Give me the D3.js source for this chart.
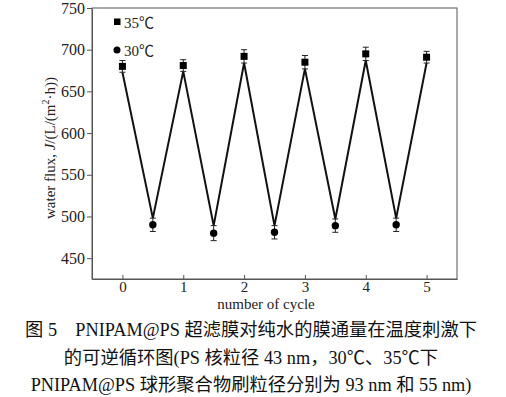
<!DOCTYPE html>
<html>
<head>
<meta charset="utf-8">
<script src="https://cdn.jsdelivr.net/npm/d3@7"></script>
<style>
  body { margin: 0; background: #fff; }
  text { font-family: "Liberation Serif", "Noto Sans CJK SC", serif; }
</style>
</head>
<body>
<svg width="506" height="397"></svg>
<script>
// 35℃ points (whole cycles) and 30℃ points (half cycles)
var hotCycle = [0, 1, 2, 3, 4, 5];
var hotFlux = [680, 681, 692, 685, 695, 691];
var hotErr = [7, 7, 8, 8, 8, 7];
var coldCycle = [0.5, 1.5, 2.5, 3.5, 4.5];
var coldFlux = [490, 480, 481, 489, 490];
var coldErr = [8, 9, 8, 8, 8];
var xTicks = [0, 1, 2, 3, 4, 5];
var yTicks = [450, 500, 550, 600, 650, 700, 750];
var caption = [
  "图 5　PNIPAM@PS 超滤膜对纯水的膜通量在温度刺激下",
  "的可逆循环图(PS 核粒径 43 nm，30℃、35℃下",
  "PNIPAM@PS 球形聚合物刷粒径分别为 93 nm 和 55 nm)"
];

var box = {left: 92, right: 457, top: 8, bottom: 279};
var serif = "'Liberation Serif', 'Noto Sans CJK SC', serif";
var svg = d3.select("svg");
var x = d3.scaleLinear().domain([-0.5, 5.5]).range([box.left, box.right]);
var y = d3.scaleLinear().domain([425, 750]).range([box.bottom, box.top]);

var hot = hotCycle.map(function (c, i) { return {c: c, v: hotFlux[i], e: hotErr[i], hot: true}; });
var cold = coldCycle.map(function (c, i) { return {c: c, v: coldFlux[i], e: coldErr[i], hot: false}; });
var all = hot.concat(cold).sort(function (a, b) { return a.c - b.c; });

// frame
svg.append("rect")
  .attr("x", box.left).attr("y", box.top)
  .attr("width", box.right - box.left).attr("height", box.bottom - box.top)
  .attr("fill", "none").attr("stroke", "#555").attr("stroke-width", 1);

// axes
var gy = svg.append("g").attr("transform", "translate(" + box.left + ",0)")
  .call(d3.axisLeft(y).tickValues(yTicks).tickSize(5).tickSizeOuter(0).tickPadding(2));
var gx = svg.append("g").attr("transform", "translate(0," + box.bottom + ")")
  .call(d3.axisBottom(x).tickValues(xTicks).tickFormat(d3.format("d"))
    .tickSizeInner(-4).tickSizeOuter(0).tickPadding(2));
[gy, gx].forEach(function (g) {
  g.attr("font-family", serif);
  g.select(".domain").attr("stroke", "#555");
  g.selectAll(".tick line").attr("stroke", "#555");
  g.selectAll(".tick text").attr("font-family", serif).attr("fill", "#222");
});
gy.selectAll(".tick text").attr("font-size", 16);
gx.selectAll(".tick text").attr("font-size", 15);

// connecting line: runs between the inner ends of the error bars
var line = d3.line()
  .x(function (d) { return x(d.c); })
  .y(function (d) { return y(d.hot ? d.v - d.e : d.v + d.e); });
svg.append("path").datum(all)
  .attr("d", line).attr("fill", "none")
  .attr("stroke", "#111").attr("stroke-width", 2);

// error bars
var eb = svg.append("g").attr("stroke", "#222").attr("stroke-width", 1);
all.forEach(function (d) {
  eb.append("line").attr("x1", x(d.c)).attr("x2", x(d.c)).attr("y1", y(d.v - d.e)).attr("y2", y(d.v + d.e));
  [d.v - d.e, d.v + d.e].forEach(function (v) {
    eb.append("line").attr("x1", x(d.c) - 3).attr("x2", x(d.c) + 3).attr("y1", y(v)).attr("y2", y(v));
  });
});

// markers
svg.selectAll(".sq").data(hot).enter().append("rect")
  .attr("x", function (d) { return x(d.c) - 3.5; })
  .attr("y", function (d) { return y(d.v) - 3.5; })
  .attr("width", 7).attr("height", 7).attr("fill", "#000");
svg.selectAll(".ci").data(cold).enter().append("circle")
  .attr("cx", function (d) { return x(d.c); })
  .attr("cy", function (d) { return y(d.v); })
  .attr("r", 3.7).attr("fill", "#000");

// legend
svg.append("rect").attr("x", 114).attr("y", 18.5).attr("width", 6.5).attr("height", 6.5).attr("fill", "#000");
svg.append("text").attr("x", 124).attr("y", 28).attr("font-size", 15).attr("fill", "#222").text("35℃");
svg.append("circle").attr("cx", 117).attr("cy", 50).attr("r", 3.5).attr("fill", "#000");
svg.append("text").attr("x", 124).attr("y", 56).attr("font-size", 15).attr("fill", "#222").text("30℃");

// axis titles
svg.append("text").attr("x", 266).attr("y", 308.5).attr("text-anchor", "middle")
  .attr("font-size", 15).attr("fill", "#222").text("number of cycle");
var yt = svg.append("text").attr("transform", "translate(55,148) rotate(-90)")
  .attr("text-anchor", "middle").attr("font-size", 15).attr("fill", "#222");
yt.append("tspan").text("water flux, ");
yt.append("tspan").attr("font-style", "italic").text("J");
yt.append("tspan").text("/(L/(m");
yt.append("tspan").attr("font-size", 10).attr("dy", -6).text("2");
yt.append("tspan").attr("dy", 6).text("·h))");

// caption
svg.selectAll(".cap").data(caption).enter().append("text")
  .attr("x", 251).attr("y", function (d, i) { return 336 + i * 27.5; })
  .attr("text-anchor", "middle")
  .attr("font-size", 18.3).attr("fill", "#111")
  .text(function (d) { return d; });
</script>
</body>
</html>
